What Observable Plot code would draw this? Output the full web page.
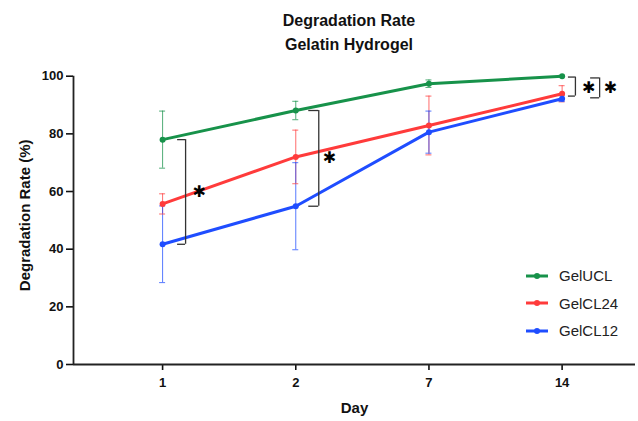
<!DOCTYPE html>
<html>
<head>
<meta charset="utf-8">
<script src="https://cdn.jsdelivr.net/npm/d3@7"></script>
<script src="https://cdn.jsdelivr.net/npm/@observablehq/plot@0.6"></script>
<style>
  html, body { margin: 0; padding: 0; background: #fff; }
  #wrap { position: relative; width: 638px; height: 421px; font-family: "Liberation Sans", Arial, sans-serif; }
  #title { height: 60px; box-sizing: border-box; padding-top: 9px; padding-left: 60px; text-align: center; font-weight: bold; font-size: 16px; line-height: 24px; color: #111; }
  #legend { position: absolute; left: 526px; top: 262px; font-size: 15px; color: #222; }
  #legend .row { height: 27.5px; display: flex; align-items: center; }
  #legend svg { margin-right: 11px; }
</style>
</head>
<body>
<div id="wrap">
  <div id="title">Degradation Rate<br>Gelatin Hydrogel</div>
  <div id="chart"></div>
  <div id="legend"></div>
</div>
<script>
const days = ["1", "2", "7", "14"];
const seriesNames = ["GelUCL", "GelCL24", "GelCL12"];
const seriesColors = ["#17924a", "#ff3b3b", "#1f4dff"];
const gelUCL = [78.0, 88.1, 97.4, 100.0];
const gelUCLErr = [9.9, 3.2, 1.3, 0.3];
const gelCL24 = [55.7, 72.0, 82.9, 93.9];
const gelCL24Err = [3.5, 9.3, 10.2, 2.8];
const gelCL12 = [41.7, 54.9, 80.6, 92.2];
const gelCL12Err = [13.3, 15.1, 7.3, 1.0];
const yTicks = [0, 20, 40, 60, 80, 100];
// significance brackets (day index, upper value, lower value)
const brackets = [
  { day: 0, top: 78.0, bottom: 41.7 },
  { day: 1, top: 88.1, bottom: 54.9 },
  { day: 3, top: 99.7, bottom: 93.1 },
  { day: 3, top: 99.4, bottom: 92.5 }
];
const starLevels = [60.0, 71.7, 95.8, 95.8];
const starDays = [0, 1, 3, 3];

const allValues = [gelUCL, gelCL24, gelCL12];
const allErr = [gelUCLErr, gelCL24Err, gelCL12Err];
const rows = [];
seriesNames.forEach((s, si) => {
  days.forEach((d, di) => {
    rows.push({ series: s, color: seriesColors[si], di, value: allValues[si][di], err: allErr[si][di] });
  });
});

const xDomain = [-0.669, 3.551];
const font = '"Liberation Sans", Arial, sans-serif';

function bracketMarks(b, off, arm) {
  return [
    Plot.ruleX([b], { x: "day", y1: "top", y2: "bottom", dx: off, stroke: "#333", strokeWidth: 1.3 }),
    Plot.ruleY([b], { x1: "day", x2: "day", y: "top", insetLeft: off - arm, insetRight: -off, stroke: "#333", strokeWidth: 1.3 }),
    Plot.ruleY([b], { x1: "day", x2: "day", y: "bottom", insetLeft: off - arm, insetRight: -off, stroke: "#333", strokeWidth: 1.3 })
  ];
}
function star(i, off) {
  return Plot.text([{ d: starDays[i], v: starLevels[i] }], {
    x: "d", y: "v", text: () => "✱", dx: off, fontSize: 16, fontWeight: "bold",
    fill: "#000", fontFamily: "DejaVu Sans"
  });
}

const chart = Plot.plot({
  width: 638,
  height: 361,
  marginTop: 15.7,
  marginBottom: 57,
  marginLeft: 73,
  marginRight: 3,
  style: { fontFamily: font, fontSize: "13px", fontWeight: "bold", color: "#111", background: "#fff" },
  x: { type: "linear", domain: xDomain },
  y: { domain: [0, 100] },
  marks: [
    Plot.axisY({ ticks: yTicks, tickSize: 7, tickPadding: 3, label: null, strokeWidth: 1.6, fontSize: 13 }),
    Plot.axisX({ ticks: [0, 1, 2, 3], tickFormat: i => days[i], tickSize: 6, tickPadding: 7, label: null, strokeWidth: 1.6, fontSize: 13 }),
    Plot.ruleY([0], { stroke: "#222", strokeWidth: 1.8 }),
    Plot.ruleX([xDomain[0]], { stroke: "#222", strokeWidth: 1.8 }),
    Plot.text(["Day"], { frameAnchor: "bottom", dy: 48, fontSize: 15, fontWeight: "bold", fill: "#111" }),
    Plot.text(["Degradation Rate (%)"], { frameAnchor: "left", textAnchor: "middle", dx: -48, dy: -5, rotate: -90, fontSize: 15, fontWeight: "bold", fill: "#111" }),
    // error bars
    Plot.ruleX(rows, { x: "di", y1: d => d.value - d.err, y2: d => d.value + d.err, stroke: "color", strokeWidth: 1, strokeOpacity: 0.75 }),
    Plot.ruleY(rows, { x1: "di", x2: "di", y: d => d.value + d.err, insetLeft: -3, insetRight: -3, stroke: "color", strokeWidth: 1, strokeOpacity: 0.75 }),
    Plot.ruleY(rows, { x1: "di", x2: "di", y: d => d.value - d.err, insetLeft: -3, insetRight: -3, stroke: "color", strokeWidth: 1, strokeOpacity: 0.75 }),
    // lines
    Plot.line(rows, { x: "di", y: "value", z: "series", stroke: "color", strokeWidth: 3 }),
    Plot.dot(rows, { x: "di", y: "value", fill: "color", r: 3 }),
    ...bracketMarks(brackets[0], 23, 8),
    ...bracketMarks(brackets[1], 23, 10),
    ...bracketMarks(brackets[2], 13.3, 7),
    ...bracketMarks(brackets[3], 37.5, 9),
    star(0, 36.6), star(1, 33.7), star(2, 26.6), star(3, 48.3)
  ]
});
document.getElementById("chart").appendChild(chart);

const legend = document.getElementById("legend");
seriesNames.forEach((s, i) => {
  const row = document.createElement("div");
  row.className = "row";
  row.innerHTML = `<svg width="22" height="8"><line x1="0" y1="4" x2="22" y2="4" stroke="${seriesColors[i]}" stroke-width="3"/><circle cx="11" cy="4" r="3" fill="${seriesColors[i]}"/></svg><span>${s}</span>`;
  legend.appendChild(row);
});
</script>
</body>
</html>
